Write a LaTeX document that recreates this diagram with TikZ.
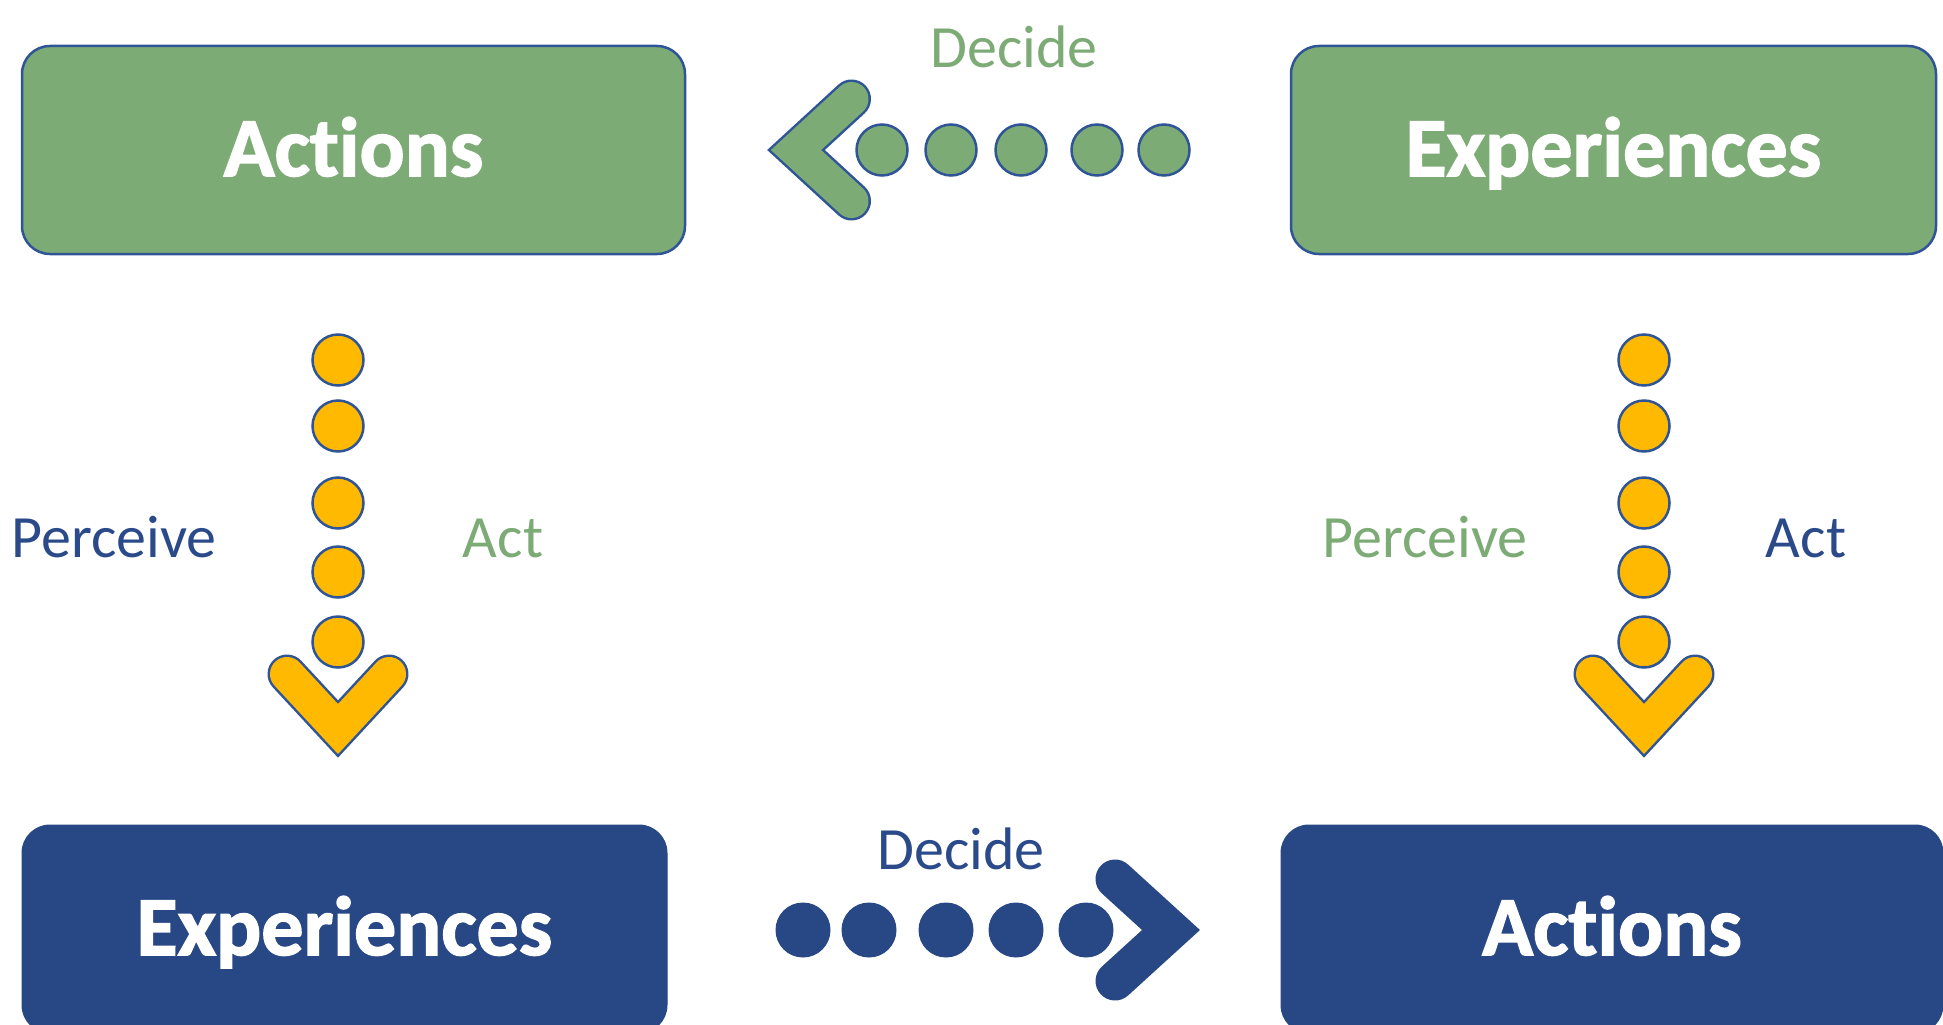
\documentclass[tikz,border=0pt]{standalone}
\usepackage{fontspec}
\setmainfont{Carlito}[Ligatures=NoCommon]
\newfontfamily\cardfont{Carlito}[Ligatures=NoCommon, BoldFeatures={FakeBold=1.8}]
\definecolor{leafgreen}{HTML}{7DAB75}
\definecolor{navy}{HTML}{284785}
\definecolor{rim}{HTML}{2F5597}
\definecolor{amber}{HTML}{FFB900}
\definecolor{inkblue}{HTML}{2B4A8A}

\begin{document}
\begin{tikzpicture}[x=1pt,y=-1pt,
  card/.style={rectangle, rounded corners=28pt, minimum height=208pt, inner sep=0pt,
    text=white, font=\cardfont\fontsize{84}{84}\selectfont\bfseries, text height=52pt, text depth=0pt},
  greencard/.style={card, fill=leafgreen, draw=rim, line width=2.5pt},
  navycard/.style={card, fill=navy, draw=navy, line width=1pt},
  tag/.style={font=\fontsize{60}{60}\selectfont, anchor=base, inner sep=0pt},
  dot/.style={circle, minimum size=51pt, inner sep=0pt, line width=2.5pt, draw=rim},
  navydot/.style={circle, minimum size=54pt, inner sep=0pt, line width=1pt, draw=navy, fill=navy},
  chevrim/.style={line width=39pt, line cap=round, line join=miter, draw=rim},
  chevbody/.style={line width=34pt, line cap=round, line join=miter},
]
\useasboundingbox (0,0) rectangle (1943,1025);
\clip (0,0) rectangle (1943,1025);

% the four cards
\node[greencard, minimum width=663pt] (actTop) at (353.5,150) {Actions};
\node[greencard, minimum width=645pt] (expTop) at (1613.5,150) {Experiences};
\node[navycard, minimum width=645pt] (expBot) at (344.5,929) {Experiences};
\node[navycard, minimum width=662pt] (actBot) at (1612,929) {Actions};

% labels
\node[tag, text=leafgreen] (decTop) at (1014,67) {Decide};
\node[tag, text=inkblue] (decBot) at (961,869) {Decide};
\node[tag, text=inkblue] (perL) at (114,557) {Perceive};
\node[tag, text=leafgreen] (actL) at (503,557) {Act};
\node[tag, text=leafgreen] (perR) at (1425,557) {Perceive};
\node[tag, text=inkblue] (actR) at (1806,557) {Act};

% top dotted arrow, pointing left
\foreach \i/\x in {1/882,2/951,3/1021,4/1097,5/1164}
  \node[dot, fill=leafgreen] (t\i) at (\x,150) {};
\coordinate (tv) at (796,150);
\coordinate (ta) at (851.5,99);
\coordinate (tb) at (851.5,201);
\draw[chevrim] (ta) -- (tv) -- (tb);
\draw[chevbody, draw=leafgreen] (ta) -- (tv) -- (tb);

% left dotted arrow, pointing down
\foreach \i/\y in {1/360,2/426,3/503,4/572,5/642}
  \node[dot, fill=amber] (l\i) at (338,\y) {};
\coordinate (lv) at (338,729);
\coordinate (la) at (287,674);
\coordinate (lb) at (389,674);
\draw[chevrim] (la) -- (lv) -- (lb);
\draw[chevbody, draw=amber] (la) -- (lv) -- (lb);

% right dotted arrow, pointing down
\foreach \i/\y in {1/360,2/426,3/503,4/572,5/642}
  \node[dot, fill=amber] (r\i) at (1644,\y) {};
\coordinate (rv) at (1644,729);
\coordinate (ra) at (1593,674);
\coordinate (rb) at (1695,674);
\draw[chevrim] (ra) -- (rv) -- (rb);
\draw[chevbody, draw=amber] (ra) -- (rv) -- (rb);

% bottom dotted arrow, pointing right
\foreach \i/\x in {1/803,2/869,3/946,4/1016,5/1086}
  \node[navydot] (b\i) at (\x,930) {};
\coordinate (bv) at (1171,930);
\coordinate (ba) at (1115,879);
\coordinate (bb) at (1115,981);
\draw[chevrim, draw=navy] (ba) -- (bv) -- (bb);
\end{tikzpicture}
\end{document}
